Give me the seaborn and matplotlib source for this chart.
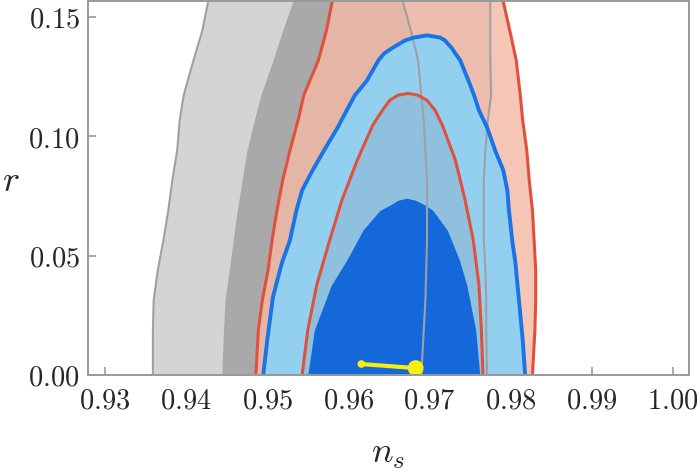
import numpy as np
import matplotlib
matplotlib.use("Agg")
import matplotlib.pyplot as plt
from matplotlib.ticker import FuncFormatter
import seaborn as sns

# contours in the (n_s, r) plane
# open contours (cut by the top of the frame) share one r grid
r_open = [0.0, 0.0188, 0.0314, 0.0439, 0.0565, 0.0690, 0.0816, 0.0941, 0.1067, 0.1172, 0.1318, 0.1444, 0.158]

gray95_left = [0.9359, 0.9359, 0.9360, 0.9365, 0.9372, 0.9378, 0.9383, 0.9389, 0.9392, 0.9397, 0.9409, 0.9420, 0.9428]
gray95_right = [0.9771, 0.9770, 0.9770, 0.9769, 0.9767, 0.9767, 0.9767, 0.9769, 0.9772, 0.9776, 0.9775, 0.9775, 0.9775]

gray68_left = [0.9444, 0.9446, 0.9448, 0.9453, 0.9458, 0.9463, 0.9469, 0.9475, 0.9484, 0.9492, 0.9507, 0.9519, 0.9533]
gray68_right = [0.9690, 0.9693, 0.9695, 0.9696, 0.9697, 0.9697, 0.9697, 0.9695, 0.9693, 0.9690, 0.9686, 0.9677, 0.9666]

red95_left = [0.9486, 0.9489, 0.9494, 0.9501, 0.9506, 0.9512, 0.9519, 0.9528, 0.9538, 0.9545, 0.9563, 0.9573, 0.9581]
red95_right = [0.9827, 0.9830, 0.9831, 0.9831, 0.9829, 0.9827, 0.9823, 0.9820, 0.9815, 0.9812, 0.9807, 0.9799, 0.9790]

# closed contours
red68_r = [0.0, 0.0188, 0.0377, 0.0565, 0.0732, 0.0900, 0.1046, 0.1109, 0.1151, 0.1172, 0.1180]
red68_left = [0.9543, 0.9550, 0.9561, 0.9577, 0.9592, 0.9611, 0.9630, 0.9642, 0.9651, 0.9661, 0.9674]
red68_right = [0.9766, 0.9764, 0.9761, 0.9754, 0.9744, 0.9732, 0.9716, 0.9707, 0.9697, 0.9686, 0.9674]

blue95_r = [0.0, 0.0146, 0.0326, 0.0469, 0.0565, 0.0690, 0.0774, 0.0858, 0.0941, 0.1038,
            0.1109, 0.1172, 0.1234, 0.1276, 0.1318, 0.1347, 0.1372, 0.1402, 0.1414, 0.1423]
blue95_left = [0.9495, 0.9500, 0.9507, 0.9518, 0.9528, 0.9536, 0.9543, 0.9556, 0.9570, 0.9587,
               0.9598, 0.9608, 0.9623, 0.9630, 0.9637, 0.9644, 0.9655, 0.9670, 0.9681, 0.9697]
blue95_right = [0.9818, 0.9815, 0.9810, 0.9806, 0.9802, 0.9798, 0.9796, 0.9791, 0.9781, 0.9771,
                0.9761, 0.9755, 0.9748, 0.9743, 0.9738, 0.9732, 0.9727, 0.9719, 0.9713, 0.9697]

blue68_r = [0.0, 0.0188, 0.0377, 0.0481, 0.0607, 0.0690, 0.0711, 0.0732, 0.0741]
blue68_left = [0.9550, 0.9558, 0.9579, 0.9598, 0.9618, 0.9639, 0.9651, 0.9661, 0.9672]
blue68_right = [0.9762, 0.9757, 0.9746, 0.9737, 0.9722, 0.9704, 0.9695, 0.9683, 0.9672]

# model prediction segment (yellow)
model_ns = [0.9616, 0.9683]
model_r = [0.0046, 0.0029]

x_ticks = [0.93, 0.94, 0.95, 0.96, 0.97, 0.98, 0.99, 1.00]
y_ticks = [0.00, 0.05, 0.10, 0.15]

GRAY_LINE = "#a0a0a0"
RED_LINE = "#e0513d"
BLUE_LINE = "#1a74e6"

sns.set_style("ticks")
plt.rcParams["mathtext.fontset"] = "cm"
plt.rcParams["font.family"] = ["DejaVu Sans"]

fig = plt.figure(figsize=(6.97, 4.72), dpi=100)
ax = fig.add_axes([88 / 697, 97 / 472, 601 / 697, 374 / 472])

# fills, back to front
ax.fill_betweenx(r_open, gray95_left, gray95_right, color="#d4d4d4", lw=0, zorder=1)
ax.fill_betweenx(r_open, gray68_left, gray68_right, color="#a9a9a9", lw=0, zorder=2)
ax.fill_betweenx(r_open, red95_left, red95_right, color="#f3b9a6", alpha=0.82, lw=0, zorder=3)
ax.fill_betweenx(blue95_r, blue95_left, blue95_right, color="#93cfee", lw=0, zorder=4)
ax.fill_betweenx(red68_r, red68_left, red68_right, color="#8fc1de", lw=0, zorder=5)
ax.fill_betweenx(blue68_r, blue68_left, blue68_right, color="#1468da", lw=0, zorder=6)

# contour lines
for xs in (gray95_left, gray95_right, gray68_right):
    ax.plot(xs, r_open, color=GRAY_LINE, lw=1.5, zorder=7)
for xs in (red95_left, red95_right):
    ax.plot(xs, r_open, color=RED_LINE, lw=2.2, zorder=8)
ax.plot(red68_left + red68_right[::-1], red68_r + red68_r[::-1], color=RED_LINE, lw=2.2, zorder=8)
ax.plot(blue95_left + blue95_right[::-1], blue95_r + blue95_r[::-1], color=BLUE_LINE, lw=2.8, zorder=9)

sns.lineplot(x=model_ns, y=model_r, sort=False, color="#f6ee0c", lw=3, ax=ax, zorder=10)
ax.scatter(model_ns, model_r, s=[30, 130], color="#f6ee0c", edgecolor="none", zorder=11)

ax.set_xlim(0.9279, 1.0020)
ax.set_ylim(0.0, 0.1567)
ax.set_xticks(x_ticks)
ax.set_yticks(y_ticks)
fmt = FuncFormatter(lambda v, _: f"${v:.2f}$")
ax.xaxis.set_major_formatter(fmt)
ax.yaxis.set_major_formatter(fmt)
ax.tick_params(direction="in", length=6, width=1.2, color="#999999", labelsize=20.5)
ax.tick_params(axis="x", pad=8)
ax.tick_params(axis="y", pad=6)

for side in ax.spines.values():
    side.set_color("#999999")
    side.set_linewidth(1.4)
    side.set_zorder(12)

ax.set_xlabel(r"$n_s$", fontsize=26)
ax.set_ylabel(r"$r$", fontsize=26, rotation=0, ha="center", va="center")
ax.xaxis.set_label_coords(0.5, -0.165)
ax.yaxis.set_label_coords(-0.128, 0.52)

fig.savefig("out.png", dpi=100)
